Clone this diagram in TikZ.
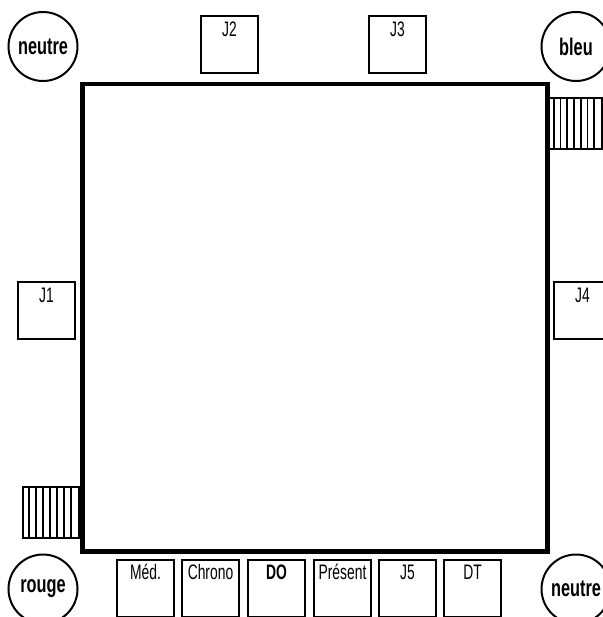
\documentclass[tikz,border=0pt]{standalone}
\usepackage{fontspec}
\setmainfont{Liberation Sans}[FakeStretch=0.66]
\newfontfamily\teamfont{Liberation Sans}[FakeStretch=0.68]
\begin{document}
\begin{tikzpicture}[x=1pt,y=-1pt,
  box/.style={draw,line width=2pt,minimum width=57pt,minimum height=57pt,inner sep=0pt,anchor=north west},
  boxtext/.style={anchor=base,inner sep=0pt,font=\fontsize{21}{21}\selectfont},
  team/.style={draw,circle,line width=2pt,minimum size=69pt,inner sep=0pt,font=\teamfont\fontsize{24}{24}\selectfont\bfseries},
  stairs/.style={draw,line width=1.6pt,anchor=north west,inner sep=0pt},
  bar/.style={line width=1.6pt}]
\useasboundingbox (0,0) rectangle (602,617);
% main field
\node[draw,line width=4.5pt,minimum width=465pt,minimum height=467pt,anchor=north west,inner sep=0pt] (field) at (80,82) {};
% team circles
\node[team] (ntl) at (43,46.5) {neutre};
\node[team] (bleu) at (576,46.5) {bleu};
\node[team] (rouge) at (43,589) {rouge};
\node[team] (nbr) at (576,589) {neutre};
% player boxes
\node[box] (j2) at (200,15) {};
\node[boxtext] (j2t) at ([yshift=-22pt]j2.north) {J2};
\node[box] (j3) at (368,15) {};
\node[boxtext] (j3t) at ([yshift=-22pt]j3.north) {J3};
\node[box] (j1) at (17,281) {};
\node[boxtext] (j1t) at ([yshift=-21pt]j1.north) {J1};
\node[box] (j4) at (553,281) {};
\node[boxtext] (j4t) at ([yshift=-21pt]j4.north) {J4};
% bottom bench
\node[box] (med) at (116,559) {};
\node[boxtext] (medt) at ([yshift=-20pt]med.north) {Méd.};
\node[box] (chrono) at (181,559) {};
\node[boxtext] (chronot) at ([yshift=-20pt]chrono.north) {Chrono};
\node[box] (do) at (247,559) {};
\node[boxtext,font=\fontsize{21}{21}\selectfont\bfseries] (dot) at ([yshift=-20pt]do.north) {DO};
\node[box] (pres) at (313,559) {};
\node[boxtext] (prest) at ([yshift=-20pt]pres.north) {Présent};
\node[box] (j5) at (378,559) {};
\node[boxtext] (j5t) at ([yshift=-20pt]j5.north) {J5};
\node[box] (dt) at (443,559) {};
\node[boxtext] (dtt) at ([yshift=-20pt]dt.north) {DT};
% stairs
\node[stairs,minimum width=54pt,minimum height=51pt] (sr) at (547,97.5) {};
\foreach \k in {1,...,7}
  \draw[bar] ([xshift=\k*6.75pt]sr.north west) -- ([xshift=\k*6.75pt]sr.south west);
\node[stairs,minimum width=56pt,minimum height=51pt] (sl) at (22,486) {};
\foreach \k in {1,...,7}
  \draw[bar] ([xshift=\k*7pt]sl.north west) -- ([xshift=\k*7pt]sl.south west);
\end{tikzpicture}
\end{document}
